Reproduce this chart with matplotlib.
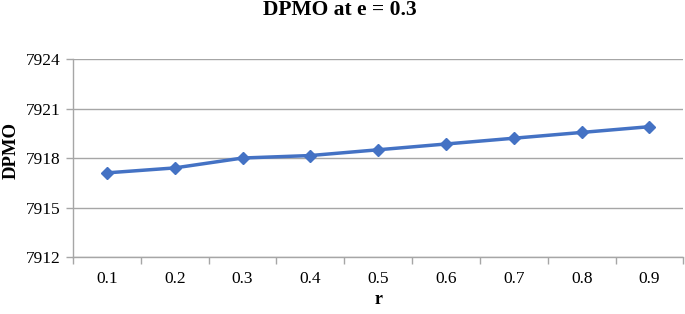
import numpy as np
import matplotlib
matplotlib.use("Agg")
import matplotlib.pyplot as plt
from matplotlib.ticker import FixedLocator, NullFormatter

# --- Data ---
r_labels = ["0.1", "0.2", "0.3", "0.4", "0.5", "0.6", "0.7", "0.8", "0.9"]
dpmo = [7917.1, 7917.4, 7918.0, 7918.15, 7918.5, 7918.85, 7919.2, 7919.55, 7919.9]
y_ticks = [7912, 7915, 7918, 7921, 7924]

plt.rcParams['font.family'] = ['Liberation Serif', 'DejaVu Serif']

fig = plt.figure(figsize=(6.85, 3.14), dpi=100)
ax = fig.add_axes([0.1066, 0.1815, 0.891, 0.6305])

x = np.arange(len(r_labels))
ax.plot(x, dpmo, color='#4472C4', linewidth=2.5, marker='D', markersize=6,
        zorder=3)

# Axis limits and ticks (category axis with ticks between categories)
ax.set_xlim(-0.5, len(r_labels) - 0.5)
ax.set_ylim(y_ticks[0], y_ticks[-1])
ax.set_yticks(y_ticks)
ax.xaxis.set_major_locator(FixedLocator(np.arange(len(r_labels) + 1) - 0.5))
ax.xaxis.set_major_formatter(NullFormatter())
ax.xaxis.set_minor_locator(FixedLocator(x))
ax.set_xticklabels(r_labels, minor=True)
ax.tick_params(axis='x', which='major', length=5, color='#A6A6A6', width=1)
ax.tick_params(axis='x', which='minor', length=0, pad=10, labelsize=12.5)
ax.tick_params(axis='y', length=5, color='#A6A6A6', width=1, pad=4, labelsize=12.5)

ax.grid(True, axis='y', color='#A6A6A6', linewidth=1)
ax.set_axisbelow(True)
for side in ['top', 'right']:
    ax.spines[side].set_visible(False)
for side in ['left', 'bottom']:
    ax.spines[side].set_color('#A6A6A6')
    ax.spines[side].set_linewidth(1)

fig.text(0.496, 0.968, "DPMO at e = 0.3", fontsize=15.5, fontweight='bold',
         ha='center', va='center')
ax.set_xlabel("r", fontsize=13, fontweight='bold')
ax.xaxis.set_label_coords(0.5, -0.17)
ax.set_ylabel("DPMO", fontsize=13.5, fontweight='bold')
ax.yaxis.set_label_coords(-0.088, 0.54)

fig.savefig("out.png", dpi=100)
